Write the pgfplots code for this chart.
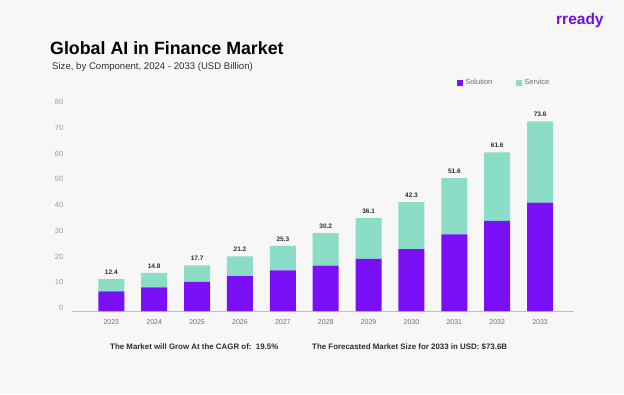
\documentclass[border=0pt]{standalone}
\usepackage{fontspec}
\setmainfont{Liberation Sans}
\usepackage{pgfplots}
\usepackage{pgfplotstable}
\pgfplotsset{compat=1.18}
\definecolor{bg}{HTML}{F7F7F7}
\definecolor{sol}{HTML}{7A10F5}
\definecolor{ser}{HTML}{8BDDC8}
\definecolor{ticktxt}{HTML}{9A9A9A}
\definecolor{xtxt}{HTML}{6E6E6E}
\definecolor{dark}{HTML}{2E2E2E}
\definecolor{logo}{HTML}{6A12E0}

\pgfplotstableread{
year sol  ser  tot
2023 7.65 4.75 12.4
2024 9.2  5.6  14.8
2025 11.3 6.4  17.7
2026 13.5 7.7  21.2
2027 15.8 9.5  25.3
2028 17.6 12.6 30.2
2029 20.2 15.9 36.1
2030 24.0 18.3 42.3
2031 29.8 21.8 51.6
2032 35.0 26.6 61.6
2033 42.1 31.5 73.6
}\data

\begin{document}
\begin{tikzpicture}[x=1pt,y=1pt]
\fill[bg] (0,0) rectangle (624,394);
\node[anchor=west, inner sep=0pt, font=\bfseries\fontsize{17.8}{19}\selectfont] at (50,346) {Global AI in Finance Market};
\node[anchor=west, inner sep=0pt, text=dark, font=\fontsize{9.6}{11}\selectfont] at (52,327) {Size, by Component, 2024 - 2033 (USD Billion)};
\node[anchor=west, inner sep=0pt, text=logo, font=\bfseries\fontsize{15.5}{17}\selectfont] at (556,373.5) {rready};
\node[anchor=west, inner sep=0pt, text=dark, font=\bfseries\fontsize{7.9}{9}\selectfont] at (110,47) {The Market will Grow At the CAGR of:\ \ 19.5\%};
\node[anchor=west, inner sep=0pt, text=dark, font=\bfseries\fontsize{7.9}{9}\selectfont] at (312,47) {The Forecasted Market Size for 2033 in USD: \$73.6B};
\begin{axis}[
  at={(72.3pt,83pt)}, anchor=south west,
  scale only axis, width=501.7pt, height=206pt,
  ybar stacked, bar width=26pt,
  xmin=2022.09, xmax=2033.79,
  ymin=0, ymax=80,
  ytick={0,10,...,80},
  xtick={2023,...,2033},
  xticklabels={2023,2024,2025,2026,2027,2028,2029,2030,2031,2032,2033},
  separate axis lines,
  axis x line*=bottom,
  axis y line*=left,
  y axis line style={draw=none},
  x axis line style={draw=black!25, line width=0.6pt, -},
  major tick length=0pt,
  /pgf/number format/assume math mode=true,
  yticklabel style={font=\fontsize{7.5}{8}\selectfont, text=ticktxt, xshift=-5.5pt, yshift=3pt},
  xticklabel style={font=\fontsize{7}{8}\selectfont, text=xtxt, yshift=-5pt},
  legend columns=2,
  legend style={draw=none, fill=none, at={(0.767,1.107)}, anchor=west, inner sep=0pt,
    font=\fontsize{7.5}{8}\selectfont, text=xtxt,
    /tikz/every even column/.append style={column sep=22pt}},
  legend image code/.code={\fill[#1] (0pt,-3pt) rectangle (6pt,3pt);},
]
\addplot[fill=sol, draw=none] table[x=year,y=sol]{\data};
\addlegendentry{Solution}
\addplot[fill=ser, draw=none] table[x=year,y=ser]{\data};
\addlegendentry{Service}
\end{axis}
\begin{axis}[
  at={(72.3pt,83pt)}, anchor=south west,
  scale only axis, width=501.7pt, height=206pt,
  xmin=2022.09, xmax=2033.79,
  ymin=0, ymax=80,
  hide axis, clip=false,
]
\addplot[draw=none, mark=none, nodes near coords, point meta=explicit symbolic,
  every node near coord/.append style={anchor=south, yshift=1pt, font=\bfseries\fontsize{6.5}{7}\selectfont, text=dark}]
  table[x=year,y=tot,meta=tot]{\data};
\end{axis}
\end{tikzpicture}
\end{document}
